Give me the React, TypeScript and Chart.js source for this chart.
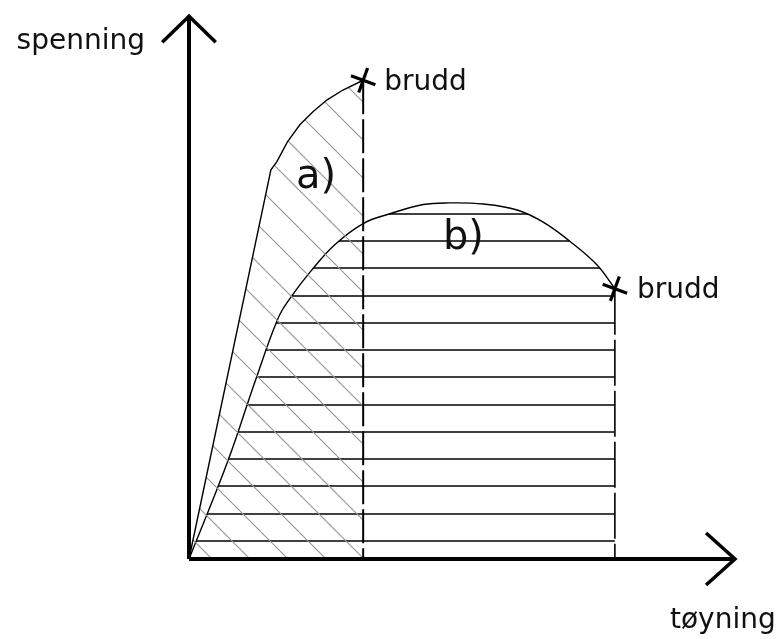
import React, { useEffect, useRef } from "react";
import { Chart, registerables } from "chart.js";

Chart.register(...registerables);

// Curve a) (brittle material): strain / stress
const strainA = [0, 1.5, 1.61, 1.8, 2.03, 2.27, 2.53, 2.82, 3.19];
const stressA = [0, 7.17, 7.32, 7.68, 8.0, 8.24, 8.46, 8.64, 8.82];

// Curve b) (ductile material): strain / stress
const strainB = [0, 0.71, 1.21, 1.63, 1.85, 2.22, 2.67, 3.19, 3.68, 4.29, 4.78, 5.39, 6.01, 6.48, 6.98, 7.47, 7.8];
const stressB = [0, 1.8, 3.27, 4.43, 4.8, 5.29, 5.79, 6.18, 6.36, 6.53, 6.56, 6.54, 6.43, 6.21, 5.85, 5.42, 4.98];

const axisMax = 10;
const axisLabels = ["spenning", "tøyning"];
const breakLabel = "brudd";
const curveLabels = ["a)", "b)"];
const curveLabelPos = [
  [1.96, 6.83],
  [4.65, 5.71],
];

function makeDiagPattern(): CanvasPattern | string {
  const s = 38;
  const c = document.createElement("canvas");
  c.width = s;
  c.height = s;
  const g = c.getContext("2d");
  if (!g) return "rgba(0,0,0,0)";
  g.strokeStyle = "#959595";
  g.lineWidth = 1.1;
  for (const o of [-76, -38, 0, 38]) {
    g.beginPath();
    g.moveTo(o + 33, 0);
    g.lineTo(o + 33 + s, s);
    g.stroke();
  }
  const p = g.createPattern(c, "repeat");
  return p || "rgba(0,0,0,0)";
}

function makeHorizPattern(): CanvasPattern | string {
  const h = 109;
  const c = document.createElement("canvas");
  c.width = 16;
  c.height = h;
  const g = c.getContext("2d");
  if (!g) return "rgba(0,0,0,0)";
  g.fillStyle = "#404040";
  for (const y of [23, 50, 78, 105]) {
    g.fillRect(0, y - 1, 16, 2);
  }
  const p = g.createPattern(c, "repeat");
  return p || "rgba(0,0,0,0)";
}

export default function App() {
  const ref = useRef<HTMLCanvasElement | null>(null);

  useEffect(() => {
    if (!ref.current) return;
    const lastA = strainA.length - 1;
    const lastB = strainB.length - 1;
    const pts = (xs: number[], ys: number[]) => xs.map((x, i) => ({ x, y: ys[i] }));

    const labelPlugin = {
      id: "labels",
      afterDatasetsDraw(chart: any) {
        const ctx = chart.ctx;
        const xs = chart.scales.x;
        const ys = chart.scales.y;
        ctx.save();
        ctx.fillStyle = "#111";
        ctx.textBaseline = "alphabetic";
        ctx.font = '28px "DejaVu Sans"';
        ctx.textAlign = "right";
        ctx.fillText(axisLabels[0], xs.getPixelForValue(0) - 44, ys.getPixelForValue(axisMax) + 33);
        ctx.textAlign = "left";
        ctx.fillText(axisLabels[1], xs.getPixelForValue(axisMax) - 65, ys.getPixelForValue(0) + 69);
        ctx.fillText(breakLabel, xs.getPixelForValue(strainA[lastA]) + 21, ys.getPixelForValue(stressA[lastA]) + 10);
        ctx.fillText(breakLabel, xs.getPixelForValue(strainB[lastB]) + 22, ys.getPixelForValue(stressB[lastB]) + 9);
        ctx.font = '40px "DejaVu Sans"';
        curveLabels.forEach((t, i) => {
          ctx.fillText(t, xs.getPixelForValue(curveLabelPos[i][0]), ys.getPixelForValue(curveLabelPos[i][1]));
        });
        ctx.restore();
      },
    };

    const base = { showLine: true, pointRadius: 0, tension: 0, clip: false as any, fill: false };

    const chart = new Chart(ref.current, {
      type: "scatter",
      data: {
        datasets: [
          {
            ...base,
            showLine: false,
            data: [
              { x: strainA[lastA], y: stressA[lastA] },
              { x: strainB[lastB], y: stressB[lastB] },
            ],
            pointStyle: "cross",
            pointRadius: 13,
            rotation: 20,
            borderWidth: 3.2,
            borderColor: "#000",
          },
          { ...base, data: [{ x: 0, y: 0 }, { x: axisMax, y: 0 }], borderColor: "#000", borderWidth: 4 },
          { ...base, data: [{ x: 0, y: 0 }, { x: 0, y: axisMax }], borderColor: "#000", borderWidth: 4 },
          {
            ...base,
            data: [{ x: 9.47, y: 0.48 }, { x: axisMax, y: 0 }, { x: 9.47, y: -0.48 }],
            borderColor: "#000",
            borderWidth: 3.5,
          },
          {
            ...base,
            data: [{ x: -0.49, y: 9.52 }, { x: 0, y: axisMax }, { x: 0.49, y: 9.52 }],
            borderColor: "#000",
            borderWidth: 3.5,
          },
          {
            ...base,
            data: [{ x: strainA[lastA], y: stressA[lastA] }, { x: strainA[lastA], y: 0 }],
            borderColor: "#000",
            borderWidth: 2,
            borderDash: [34, 5],
          },
          {
            ...base,
            data: [{ x: strainB[lastB], y: stressB[lastB] }, { x: strainB[lastB], y: 0 }],
            borderColor: "#000",
            borderWidth: 1.6,
            borderDash: [46, 5],
          },
          {
            ...base,
            data: pts(strainA, stressA),
            borderColor: "#000",
            borderWidth: 1.4,
            fill: "origin",
            backgroundColor: makeDiagPattern() as any,
          },
          {
            ...base,
            data: pts(strainB, stressB),
            tension: 0.4,
            borderColor: "#000",
            borderWidth: 1.4,
            fill: "origin",
            backgroundColor: makeHorizPattern() as any,
          },
        ],
      },
      options: {
        animation: false,
        responsive: false,
        events: [],
        layout: { padding: { left: 189, right: 45, top: 14, bottom: 80 } },
        scales: {
          x: { type: "linear", min: 0, max: axisMax, display: false },
          y: { type: "linear", min: 0, max: axisMax, display: false },
        },
        plugins: {
          legend: { display: false },
          tooltip: { enabled: false },
          filler: { propagate: false },
        },
      },
      plugins: [labelPlugin],
    });
    return () => chart.destroy();
  }, []);

  return (
    <div style={{ position: "absolute", left: 0, top: 0, width: 780, height: 639, background: "#fff" }}>
      <canvas ref={ref} width={780} height={639} style={{ display: "block" }} />
    </div>
  );
}
